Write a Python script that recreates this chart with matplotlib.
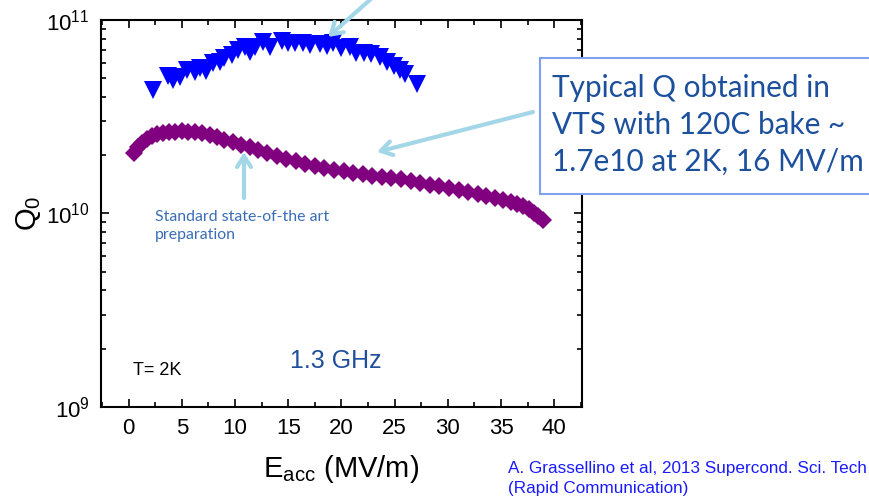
import matplotlib
matplotlib.use("Agg")
import matplotlib.pyplot as plt
from matplotlib.patches import FancyArrowPatch, Rectangle
from matplotlib.ticker import MultipleLocator, LogLocator, NullFormatter

plt.rcParams['font.family'] = ['Liberation Sans', 'DejaVu Sans']
plt.rcParams['mathtext.fontset'] = 'custom'
plt.rcParams['mathtext.rm'] = 'Liberation Sans'
plt.rcParams['mathtext.it'] = 'Liberation Sans:italic'

# 120C baked cavity (blue triangles)
e_blue = [2.3, 3.7, 4.2, 4.8, 5.5, 6.2, 6.7, 7.3, 7.9, 8.6, 9.0, 9.7, 10.3, 10.9,
          11.4, 11.9, 12.6, 13.3, 14.4, 15.0, 15.6, 16.4, 17.0, 18.0, 18.6, 19.2,
          20.0, 20.8, 21.4, 22.1, 22.8, 23.6, 24.3, 24.9, 25.5, 26.0, 27.1]
q_blue = [4.35, 5.14, 4.90, 5.06, 5.52, 5.41, 5.62, 5.47, 5.97, 6.09, 6.34, 6.59,
          7.00, 7.28, 6.85, 7.23, 7.73, 7.28, 7.82, 7.58, 7.58, 7.64, 7.43, 7.52,
          7.34, 7.64, 7.14, 7.23, 6.73, 6.78, 6.67, 6.46, 6.09, 5.78, 5.52, 5.26, 4.67]

# standard preparation (purple diamonds)
e_purple = [0.5, 0.9, 1.3, 1.7, 2.2, 2.7, 3.2, 3.8, 4.4, 5.0, 5.6, 6.2, 6.9, 7.6,
            8.3, 9.0, 9.8, 10.6, 11.4, 12.2, 13.0, 13.9, 14.8, 15.7, 16.6, 17.5,
            18.4, 19.3, 20.2, 21.1, 22.0, 22.9, 23.8, 24.7, 25.6, 26.5, 27.4, 28.3,
            29.2, 30.1, 31.0, 31.9, 32.8, 33.6, 34.4, 35.2, 35.9, 36.5, 37.1, 37.6,
            38.1, 38.5, 38.9]
q_purple = [2.05, 2.20, 2.32, 2.42, 2.50, 2.56, 2.60, 2.63, 2.65, 2.66, 2.65, 2.64,
            2.60, 2.55, 2.48, 2.40, 2.33, 2.26, 2.20, 2.12, 2.05, 1.98, 1.92, 1.86,
            1.80, 1.76, 1.71, 1.68, 1.65, 1.62, 1.59, 1.57, 1.54, 1.52, 1.50, 1.47,
            1.44, 1.41, 1.38, 1.35, 1.32, 1.29, 1.26, 1.23, 1.20, 1.17, 1.15, 1.12,
            1.09, 1.05, 1.01, 0.97, 0.92]

x_ticks = [0, 5, 10, 15, 20, 25, 30, 35, 40]

W, H = 869, 499

def fx(px):
    return px / W

def fy(py):
    return 1 - py / H

fig = plt.figure(figsize=(8.69, 4.99), dpi=100)
ax = fig.add_axes([0.1162, 0.1844, 0.5535, 0.7756])

ax.plot(e_blue, [q * 1e10 for q in q_blue], 'v', color='#0000ff', ms=12.5, mew=0)
ax.plot(e_purple, [q * 1e10 for q in q_purple], 'D', color='#800080', ms=9, mew=0)

ax.set_yscale('log')
ax.set_ylim(1e9, 1e11)
ax.set_xlim(-2.6, 42.6)
ax.set_xticks(x_ticks)
ax.xaxis.set_minor_locator(MultipleLocator(2.5))
ax.yaxis.set_minor_locator(LogLocator(base=10, subs=range(2, 10)))
ax.yaxis.set_minor_formatter(NullFormatter())
ax.tick_params(which='both', direction='in', top=True, right=True, width=1.2)
ax.tick_params(which='major', length=6, labelsize=16, pad=8)
ax.tick_params(which='minor', length=3.5)
for s in ax.spines.values():
    s.set_linewidth(1.5)

ax.set_xlabel('E$_{\\mathregular{acc}}$ (MV/m)', fontsize=21, labelpad=10)
ax.set_ylabel('Q$_{\\mathregular{0}}$', fontsize=21, labelpad=2)

ax.text(0.4, 1.55e9, 'T= 2K', fontsize=13, va='center')
ax.text(15.2, 1.72e9, '1.3 GHz', fontsize=18, color='#1f4e9a', va='center')

fig.text(fx(155), fy(226), 'Standard state-of-the art\npreparation', fontsize=11.4,
         color='#3a6db5', family=['Lato', 'DejaVu Sans'], va='center', linespacing=1.3)

arrow_c = '#a3d7e8'

def arrow(p0, p1):
    fig.add_artist(FancyArrowPatch(
        (fx(p0[0]), fy(p0[1])), (fx(p1[0]), fy(p1[1])),
        transform=fig.transFigure, arrowstyle='->,head_length=8,head_width=5',
        color=arrow_c, lw=3, shrinkA=0, shrinkB=0, zorder=5))

arrow((372, -2), (328, 37))
arrow((533, 112), (377, 152))
arrow((244, 198), (244, 152))

# callout box running off the right edge
fig.add_artist(Rectangle((fx(540), fy(194)), fx(900) - fx(540), fy(58) - fy(194),
                         transform=fig.transFigure, fc='white', ec='#7da0f0', lw=1.5,
                         zorder=6))
fig.text(fx(552), fy(125), 'Typical Q obtained in\nVTS with 120C bake ~\n1.7e10 at 2K, 16 MV/m',
         fontsize=21.4, color='#1c4f9c', family=['Lato', 'DejaVu Sans'], va='center',
         linespacing=1.4, zorder=7)

fig.text(fx(508), fy(468), 'A. Grassellino et al, 2013 Supercond. Sci. Tech',
         fontsize=12.3, color='#1a1aff', va='center')
fig.text(fx(508), fy(489), '(Rapid Communication)',
         fontsize=12.3, color='#1a1aff', va='center')

fig.savefig('out.png', dpi=100)
